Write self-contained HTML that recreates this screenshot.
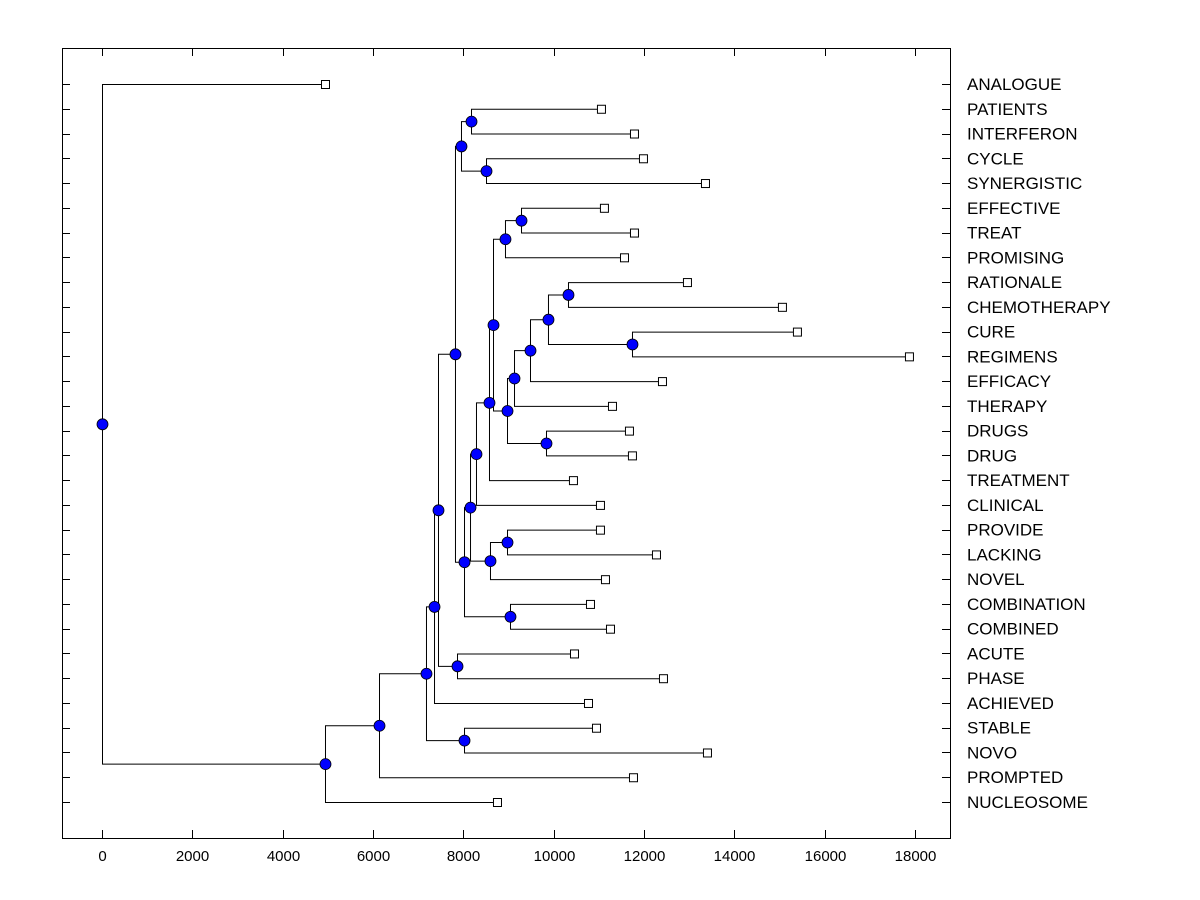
<!DOCTYPE html>
<html><head><meta charset="utf-8"><style>
body{margin:0;background:#fff;}
svg{display:block;font-family:"Liberation Sans",Arial,sans-serif;}
</style></head><body>
<svg id="chart" width="1200" height="900" viewBox="0 0 1200 900" xmlns="http://www.w3.org/2000/svg">
<rect x="62.5" y="48.5" width="888" height="790" fill="none" stroke="#000" stroke-width="1"/>
<g id="g-lines"></g>
<g id="g-marks"></g>
<g id="g-axis"></g>
<g id="g-labels"></g>
</svg>
<script>
const leafNames = ["ANALOGUE","PATIENTS","INTERFERON","CYCLE","SYNERGISTIC","EFFECTIVE","TREAT","PROMISING","RATIONALE","CHEMOTHERAPY","CURE","REGIMENS","EFFICACY","THERAPY","DRUGS","DRUG","TREATMENT","CLINICAL","PROVIDE","LACKING","NOVEL","COMBINATION","COMBINED","ACUTE","PHASE","ACHIEVED","STABLE","NOVO","PROMPTED","NUCLEOSOME"];
const leafValues = [4937,11047,11778,11977,13350,11113,11778,11557,12951,15054,15386,17866,12398,11291,11667,11733,10427,11025,11025,12265,11136,10804,11247,10450,12420,10760,10937,13394,11756,8745];
const mergeChildren = [
 [1,2],[3,4],[30,31],
 [5,6],[33,7],
 [8,9],[10,11],[35,36],[37,12],[38,13],
 [14,15],[39,40],[34,41],[42,16],[43,17],
 [18,19],[45,20],[44,46],[21,22],[47,48],
 [32,49],[23,24],[50,51],[52,25],[26,27],[53,54],[28,55],[29,56],[0,57]
];
const mergeValues = [8170,8502,7948,9277,8922,10317,11734,9874,9476,9122,9830,8967,8657,8568,8280,8967,8590,8148,9033,8015,7815,7860,7439,7351,8015,7173,6133,4937,0];
const xTicks = [0,2000,4000,6000,8000,10000,12000,14000,16000,18000];

const NS="http://www.w3.org/2000/svg";
const xs = v => 102 + v*(813/18000);
const ys = i => 84 + i*(718/29);
const gL=document.getElementById('g-lines'), gM=document.getElementById('g-marks'), gA=document.getElementById('g-axis'), gT=document.getElementById('g-labels');
function mk(tag, attrs, parent){const e=document.createElementNS(NS,tag);for(const k in attrs)e.setAttribute(k,attrs[k]);parent.appendChild(e);return e;}
const pos=[];
leafNames.forEach((n,i)=>{pos[i]={x:xs(leafValues[i]),y:ys(i)};});
mergeChildren.forEach((c,i)=>{
  const a=pos[c[0]], b=pos[c[1]], px=xs(mergeValues[i]);
  pos[30+i]={x:px,y:(a.y+b.y)/2};
  const p=mk('path',{d:`M${a.x},${a.y+0.5}H${px+0.5}V${b.y+0.5}H${b.x}`,fill:'none',stroke:'#000','stroke-width':1},gL);
  
  
});
mergeChildren.forEach((c,i)=>{
  const p=pos[30+i];
  const e=mk('circle',{cx:p.x+0.5,cy:p.y+0.5,r:5.5,fill:'#0000ff',stroke:'#000','stroke-width':0.8},gM);
  
  
});
leafNames.forEach((n,i)=>{
  const p=pos[i];
  const s=mk('rect',{x:p.x-3.5,y:p.y-3.5,width:8,height:8,fill:'#fff',stroke:'#000','stroke-width':1},gM);
  
  
  const yy=Math.round(p.y)+0.5;
  const t1=mk('line',{x1:62,y1:yy,x2:70,y2:yy,stroke:'#000'},gA);
  
  
  const t2=mk('line',{x1:942,y1:yy,x2:950,y2:yy,stroke:'#000'},gA);
  
  
  const t=mk('text',{x:967,y:p.y+6,'font-size':17,fill:'#000'},gT);
  t.textContent=n;
  
  
});
xTicks.forEach(v=>{
  const x=Math.round(xs(v))+0.5;
  const a=mk('line',{x1:x,y1:830,x2:x,y2:838,stroke:'#000'},gA);
  
  
  const b=mk('line',{x1:x,y1:48,x2:x,y2:56,stroke:'#000'},gA);
  
  
  const t=mk('text',{x:x,y:861,'font-size':15,'text-anchor':'middle',fill:'#000'},gA);
  t.textContent=v;
  
  
});
</script>
</body></html>
